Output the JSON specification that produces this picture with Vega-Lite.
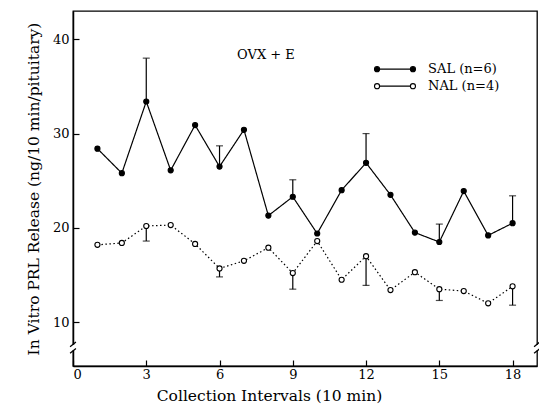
{
  "$schema": "https://vega.github.io/schema/vega-lite/v6.json",
  "autosize": "none",
  "padding": {"left": 73, "top": 11, "right": 2, "bottom": 45},
  "width": 464,
  "height": 355,
  "background": "white",
  "config": {
    "font": "DejaVu Serif",
    "view": {"stroke": "black", "strokeWidth": 1.3},
    "axis": {
      "domainColor": "black", "domainWidth": 1.5, "tickColor": "black", "tickWidth": 1.2,
      "labelColor": "black", "titleColor": "black", "grid": false,
      "labelFont": "DejaVu Serif", "titleFont": "DejaVu Serif",
      "labelFontSize": 13, "titleFontSize": 15.5, "titleFontWeight": "normal"
    }
  },
  "data": {
    "values": [
      {"interval": 1, "group": "SAL (n=6)", "release": 28.4, "errEnd": null},
      {"interval": 2, "group": "SAL (n=6)", "release": 25.8, "errEnd": null},
      {"interval": 3, "group": "SAL (n=6)", "release": 33.4, "errEnd": 38.0},
      {"interval": 4, "group": "SAL (n=6)", "release": 26.1, "errEnd": null},
      {"interval": 5, "group": "SAL (n=6)", "release": 30.9, "errEnd": null},
      {"interval": 6, "group": "SAL (n=6)", "release": 26.5, "errEnd": 28.7},
      {"interval": 7, "group": "SAL (n=6)", "release": 30.4, "errEnd": null},
      {"interval": 8, "group": "SAL (n=6)", "release": 21.3, "errEnd": null},
      {"interval": 9, "group": "SAL (n=6)", "release": 23.3, "errEnd": 25.1},
      {"interval": 10, "group": "SAL (n=6)", "release": 19.4, "errEnd": null},
      {"interval": 11, "group": "SAL (n=6)", "release": 24.0, "errEnd": null},
      {"interval": 12, "group": "SAL (n=6)", "release": 26.9, "errEnd": 30.0},
      {"interval": 13, "group": "SAL (n=6)", "release": 23.5, "errEnd": null},
      {"interval": 14, "group": "SAL (n=6)", "release": 19.5, "errEnd": null},
      {"interval": 15, "group": "SAL (n=6)", "release": 18.5, "errEnd": 20.4},
      {"interval": 16, "group": "SAL (n=6)", "release": 23.9, "errEnd": null},
      {"interval": 17, "group": "SAL (n=6)", "release": 19.2, "errEnd": null},
      {"interval": 18, "group": "SAL (n=6)", "release": 20.5, "errEnd": 23.4},
      {"interval": 1, "group": "NAL (n=4)", "release": 18.2, "errEnd": null},
      {"interval": 2, "group": "NAL (n=4)", "release": 18.4, "errEnd": null},
      {"interval": 3, "group": "NAL (n=4)", "release": 20.2, "errEnd": 18.6},
      {"interval": 4, "group": "NAL (n=4)", "release": 20.3, "errEnd": null},
      {"interval": 5, "group": "NAL (n=4)", "release": 18.3, "errEnd": null},
      {"interval": 6, "group": "NAL (n=4)", "release": 15.7, "errEnd": 14.8},
      {"interval": 7, "group": "NAL (n=4)", "release": 16.5, "errEnd": null},
      {"interval": 8, "group": "NAL (n=4)", "release": 17.9, "errEnd": null},
      {"interval": 9, "group": "NAL (n=4)", "release": 15.2, "errEnd": 13.5},
      {"interval": 10, "group": "NAL (n=4)", "release": 18.6, "errEnd": null},
      {"interval": 11, "group": "NAL (n=4)", "release": 14.5, "errEnd": null},
      {"interval": 12, "group": "NAL (n=4)", "release": 17.0, "errEnd": 13.9},
      {"interval": 13, "group": "NAL (n=4)", "release": 13.4, "errEnd": null},
      {"interval": 14, "group": "NAL (n=4)", "release": 15.3, "errEnd": null},
      {"interval": 15, "group": "NAL (n=4)", "release": 13.5, "errEnd": 12.3},
      {"interval": 16, "group": "NAL (n=4)", "release": 13.3, "errEnd": null},
      {"interval": 17, "group": "NAL (n=4)", "release": 12.0, "errEnd": null},
      {"interval": 18, "group": "NAL (n=4)", "release": 13.8, "errEnd": 11.8}
    ]
  },
  "encoding": {
    "x": {
      "field": "interval", "type": "quantitative",
      "scale": {"domain": [0, 19], "nice": false, "zero": false},
      "axis": {"values": [0, 3, 6, 9, 12, 15, 18], "tickSize": -6, "labelPadding": 8,
               "title": "Collection Intervals (10 min)", "titlePadding": 7, "titleX": 196}
    },
    "y": {
      "field": "release", "type": "quantitative",
      "scale": {"domain": [5.35, 43], "nice": false, "zero": false},
      "axis": {"values": [10, 20, 30, 40], "tickSize": -6, "labelPadding": 10,
               "title": "In Vitro PRL Release (ng/10 min/pituitary)", "titlePadding": 11}
    }
  },
  "layer": [
    {
      "mark": {"type": "line", "color": "black", "strokeWidth": 1.2},
      "encoding": {
        "strokeDash": {
          "field": "group", "type": "nominal",
          "scale": {"domain": ["SAL (n=6)", "NAL (n=4)"], "range": [[1, 0], [1.5, 2.5]]},
          "legend": null
        }
      }
    },
    {
      "transform": [{"filter": "datum.errEnd != null"}],
      "mark": {"type": "rule", "color": "black", "strokeWidth": 1.2},
      "encoding": {"y2": {"field": "errEnd"}}
    },
    {
      "transform": [{"filter": "datum.errEnd != null"}],
      "mark": {"type": "tick", "orient": "horizontal", "color": "black", "size": 7, "thickness": 1.2},
      "encoding": {"y": {"field": "errEnd", "type": "quantitative"}}
    },
    {
      "mark": {"type": "point", "filled": true, "stroke": "black", "strokeWidth": 1.1, "size": 26, "opacity": 1},
      "encoding": {
        "fill": {
          "field": "group", "type": "nominal",
          "scale": {"domain": ["SAL (n=6)", "NAL (n=4)"], "range": ["black", "white"]},
          "legend": null
        }
      }
    },
    {
      "transform": [{"filter": "datum.interval == 1 && datum.group == 'SAL (n=6)'"}],
      "layer": [
        {
          "mark": {"type": "text", "font": "DejaVu Serif", "fontSize": 13, "color": "black"},
          "encoding": {"x": {"datum": 7.9}, "y": {"datum": 38.3}, "text": {"value": "OVX + E"}}
        },
        {
          "mark": {"type": "rule", "color": "black", "strokeWidth": 1.2},
          "encoding": {"x": {"datum": 12.45}, "x2": {"datum": 13.92}, "y": {"datum": 36.83}}
        },
        {
          "mark": {"type": "rule", "color": "black", "strokeWidth": 1.2},
          "encoding": {"x": {"datum": 12.45}, "x2": {"datum": 13.92}, "y": {"datum": 35.03}}
        },
        {
          "mark": {"type": "point", "filled": true, "fill": "black", "stroke": "black", "strokeWidth": 1.1, "size": 26, "opacity": 1},
          "encoding": {"x": {"datum": 12.45}, "y": {"datum": 36.83}}
        },
        {
          "mark": {"type": "point", "filled": true, "fill": "black", "stroke": "black", "strokeWidth": 1.1, "size": 26, "opacity": 1},
          "encoding": {"x": {"datum": 13.92}, "y": {"datum": 36.83}}
        },
        {
          "mark": {"type": "point", "filled": true, "fill": "white", "stroke": "black", "strokeWidth": 1.1, "size": 26, "opacity": 1},
          "encoding": {"x": {"datum": 12.45}, "y": {"datum": 35.03}}
        },
        {
          "mark": {"type": "point", "filled": true, "fill": "white", "stroke": "black", "strokeWidth": 1.1, "size": 26, "opacity": 1},
          "encoding": {"x": {"datum": 13.92}, "y": {"datum": 35.03}}
        },
        {
          "mark": {"type": "text", "font": "DejaVu Serif", "fontSize": 13, "color": "black", "align": "left", "baseline": "middle"},
          "encoding": {"x": {"datum": 14.54}, "y": {"datum": 36.83}, "text": {"value": "SAL (n=6)"}}
        },
        {
          "mark": {"type": "text", "font": "DejaVu Serif", "fontSize": 13, "color": "black", "align": "left", "baseline": "middle"},
          "encoding": {"x": {"datum": 14.54}, "y": {"datum": 35.03}, "text": {"value": "NAL (n=4)"}}
        },
        {
          "mark": {"type": "rule", "color": "white", "strokeWidth": 5, "clip": false},
          "encoding": {"x": {"datum": 0}, "y": {"datum": 7.6}, "y2": {"datum": 7.0}}
        },
        {
          "mark": {"type": "rule", "color": "white", "strokeWidth": 5, "clip": false},
          "encoding": {"x": {"datum": 19}, "y": {"datum": 7.6}, "y2": {"datum": 7.0}}
        },
        {
          "mark": {"type": "rule", "color": "black", "strokeWidth": 1.3, "clip": false},
          "encoding": {"x": {"datum": -0.12}, "x2": {"datum": 0.12}, "y": {"datum": 7.4}, "y2": {"datum": 7.9}}
        },
        {
          "mark": {"type": "rule", "color": "black", "strokeWidth": 1.3, "clip": false},
          "encoding": {"x": {"datum": -0.12}, "x2": {"datum": 0.12}, "y": {"datum": 6.7}, "y2": {"datum": 7.2}}
        },
        {
          "mark": {"type": "rule", "color": "black", "strokeWidth": 1.3, "clip": false},
          "encoding": {"x": {"datum": 18.88}, "x2": {"datum": 19.12}, "y": {"datum": 7.4}, "y2": {"datum": 7.9}}
        },
        {
          "mark": {"type": "rule", "color": "black", "strokeWidth": 1.3, "clip": false},
          "encoding": {"x": {"datum": 18.88}, "x2": {"datum": 19.12}, "y": {"datum": 6.7}, "y2": {"datum": 7.2}}
        }
      ]
    }
  ]
}
